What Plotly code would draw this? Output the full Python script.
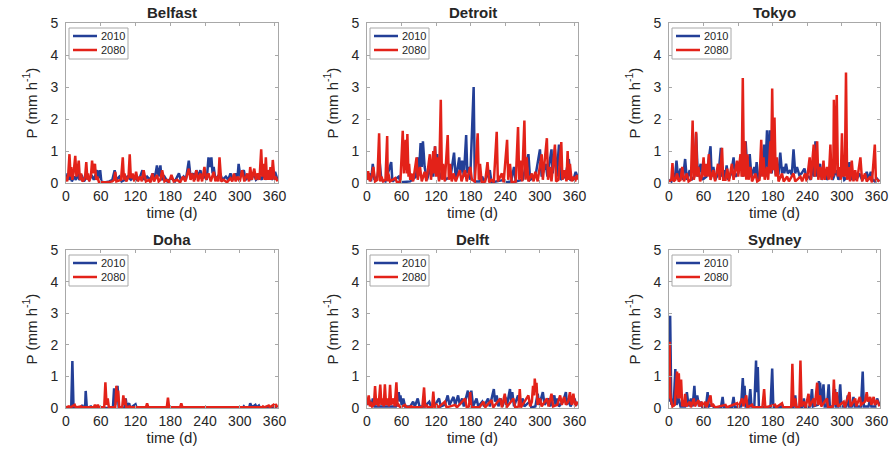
import plotly.graph_objects as go

CITIES = ["Belfast", "Detroit", "Tokyo", "Doha", "Delft", "Sydney"]
YEARS = ["2010", "2080"]
X_TICKS = [0, 60, 120, 180, 240, 300, 360]
Y_TICKS = [0, 1, 2, 3, 4, 5]

# (day, P in mm/h)
BELFAST_2010 = [(0,0.1),(3,0.3),(5,0.1),(8,0.25),(10,0.05),(14,0.2),(17,0.1),(20,0.3),(23,0.1),(28,0.2),(31,0.05),(36,0.2),(40,0.1),(44,0.25),(48,0.1),(52,0.3),(54,0.4),(56,0.15),(59,0.4),(61,0.05),(66,0.02),(75,0.05),(80,0.1),(84,0.4),(87,0.1),(92,0.2),(96,0.05),(102,0.1),(106,0.2),(112,0.1),(117,0.2),(122,0.1),(128,0.2),(132,0.4),(135,0.1),(140,0.2),(145,0.1),(150,0.3),(153,0.1),(157,0.55),(160,0.2),(163,0.55),(165,0.1),(170,0.2),(175,0.05),(182,0.15),(188,0.05),(195,0.3),(198,0.1),(203,0.2),(207,0.1),(212,0.7),(215,0.2),(220,0.3),(222,0.1),(225,0.4),(228,0.2),(232,0.4),(235,0.15),(240,0.2),(243,0.1),(246,0.8),(249,0.5),(251,0.8),(253,0.3),(255,0.5),(258,0.1),(262,0.2),(266,0.3),(270,0.1),(276,0.2),(280,0.1),(284,0.3),(288,0.1),(293,0.3),(296,0.15),(298,0.6),(301,0.2),(304,0.3),(307,0.4),(310,0.1),(316,0.2),(320,0.1),(324,0.3),(328,0.1),(334,0.2),(338,0.1),(341,0.35),(344,0.1),(348,0.3),(352,0.4),(355,0.1),(358,0.2),(361,0.35),(365,0.1)]
BELFAST_2080 = [(0,0.2),(2,0.05),(4,0.3),(6,0.9),(8,0.2),(9,0.5),(11,0.1),(13,0.3),(16,0.85),(18,0.2),(20,0.4),(22,0.7),(24,0.1),(26,0.3),(28,0.05),(31,0.1),(33,0.2),(35,0.65),(37,0.1),(38,0.3),(40,0.05),(43,0.2),(45,0.7),(47,0.3),(50,0.6),(52,0.1),(54,0.2),(57,0.02),(62,0.02),(70,0.02),(80,0.05),(83,0.1),(85,0.35),(87,0.05),(95,0.1),(98,0.8),(100,0.1),(101,0.3),(104,0.05),(108,0.2),(110,0.9),(112,0.15),(115,0.3),(118,0.05),(121,0.35),(124,0.05),(128,0.2),(131,0.05),(134,0.4),(138,0.05),(143,0.1),(146,0.02),(149,0.3),(152,0.05),(157,0.25),(160,0.05),(163,0.1),(166,0.4),(170,0.05),(174,0.1),(178,0.02),(182,0.25),(186,0.05),(192,0.1),(197,0.02),(202,0.2),(206,0.05),(212,0.45),(215,0.1),(218,0.3),(221,0.05),(225,0.4),(228,0.05),(232,0.3),(235,0.05),(239,0.5),(242,0.1),(246,0.3),(250,0.05),(255,0.35),(258,0.05),(261,0.2),(263,0.05),(265,0.8),(268,0.05),(272,0.1),(278,0.02),(284,0.15),(287,0.05),(290,0.3),(293,0.05),(296,0.2),(300,0.05),(304,0.4),(308,0.05),(313,0.3),(316,0.05),(318,0.5),(321,0.1),(325,0.45),(328,0.1),(331,0.3),(334,0.1),(337,1.05),(339,0.2),(341,0.6),(343,0.1),(345,0.8),(347,0.1),(349,0.4),(351,0.1),(353,0.5),(355,0.1),(357,0.72),(360,0.1),(362,0.2),(365,0.05)]

DETROIT_2010 = [(0,0.1),(5,0.3),(7,0.05),(10,0.6),(13,0.1),(18,0.2),(22,0.65),(25,0.1),(32,0.05),(42,0.65),(44,0.05),(55,0.2),(58,0.02),(75,0.05),(85,0.2),(88,0.8),(90,0.3),(93,1.25),(95,0.5),(97,1.3),(100,0.5),(104,0.1),(112,0.6),(115,0.2),(118,1.15),(120,0.4),(122,0.9),(125,0.1),(133,0.5),(136,0.1),(145,0.2),(151,0.95),(154,0.1),(160,0.8),(162,0.3),(165,0.7),(168,0.2),(172,1.5),(174,0.3),(176,0.5),(179,0.1),(185,3.0),(187,0.05),(195,0.05),(200,0.2),(203,0.02),(213,0.4),(216,0.02),(238,0.1),(241,0.02),(250,0.05),(255,0.5),(258,0.05),(270,0.1),(280,0.9),(283,0.1),(292,0.2),(300,1.05),(303,0.2),(310,0.6),(313,0.2),(320,1.05),(322,0.3),(326,1.05),(329,0.2),(333,1.2),(336,0.1),(344,0.2),(350,0.75),(353,0.1),(358,0.1),(362,0.35),(365,0.2)]
DETROIT_2080 = [(0,0.1),(2,0.37),(5,0.05),(8,0.2),(11,0.5),(14,0.05),(18,0.1),(21,1.55),(23,0.05),(25,0.2),(28,0.05),(32,0.1),(35,1.47),(36,0.05),(37,0.3),(40,0.05),(49,0.15),(52,0.02),(58,0.05),(62,1.63),(64,0.3),(65,1.3),(66,0.4),(67,1.35),(69,0.3),(70,1.53),(72,0.2),(73,0.6),(75,0.1),(77,0.3),(80,0.05),(86,0.8),(88,0.1),(92,0.5),(95,0.05),(100,0.35),(103,0.05),(109,0.9),(111,0.1),(115,1.0),(116,0.3),(118,1.15),(120,0.2),(122,0.8),(125,0.05),(128,2.6),(130,0.1),(132,0.6),(135,0.05),(140,1.5),(142,0.1),(144,0.6),(147,0.05),(150,0.3),(154,0.05),(161,0.4),(164,0.05),(170,0.4),(173,0.05),(179,0.5),(182,0.1),(187,0.05),(192,1.55),(194,0.1),(196,0.6),(199,0.02),(205,0.05),(209,0.65),(212,0.02),(216,0.1),(220,0.02),(225,1.6),(227,0.05),(234,0.3),(237,0.02),(243,1.35),(245,0.1),(248,0.6),(251,0.02),(258,0.05),(262,1.75),(264,0.1),(266,0.7),(269,0.05),(273,1.95),(275,0.1),(277,0.8),(280,0.05),(286,0.3),(289,0.05),(292,0.35),(296,0.05),(303,0.9),(305,0.1),(312,1.4),(314,0.1),(317,0.5),(320,0.05),(326,1.2),(328,0.05),(332,0.1),(337,1.28),(339,0.1),(343,0.4),(346,0.05),(348,1.0),(350,0.1),(352,0.6),(355,0.05),(358,0.2),(361,0.05),(364,0.25),(365,0.1)]

TOKYO_2010 = [(0,0.1),(4,0.05),(7,0.3),(10,0.1),(13,0.7),(16,0.1),(20,0.45),(24,0.1),(28,0.75),(31,0.1),(36,0.4),(39,0.1),(44,0.2),(47,1.55),(50,0.2),(55,0.6),(58,0.1),(65,0.2),(72,1.15),(74,0.2),(77,0.5),(80,0.1),(86,0.3),(90,1.1),(92,0.2),(95,0.4),(97,0.1),(100,0.55),(103,0.1),(108,0.3),(112,0.8),(115,0.2),(120,0.3),(125,0.7),(128,0.2),(133,1.3),(136,0.3),(140,0.9),(143,0.2),(148,0.5),(150,0.2),(152,0.65),(155,0.1),(160,0.3),(165,1.2),(167,0.3),(170,1.65),(172,0.5),(175,1.65),(178,0.3),(182,0.8),(185,0.3),(190,0.3),(193,0.95),(196,0.3),(198,0.5),(200,0.3),(203,0.6),(206,0.3),(210,0.4),(213,0.25),(216,1.05),(219,0.3),(222,0.5),(226,0.25),(230,0.3),(235,0.45),(238,0.2),(242,0.2),(246,0.1),(250,0.55),(252,0.2),(254,1.3),(257,0.2),(262,0.6),(265,0.1),(270,0.4),(274,0.1),(280,0.3),(284,0.1),(290,0.4),(294,0.1),(300,0.4),(304,0.1),(310,0.2),(313,0.65),(316,0.1),(322,0.3),(325,0.1),(330,0.3),(335,0.1),(340,0.2),(343,0.35),(346,0.1),(350,0.35),(353,0.1),(357,0.05),(360,0.15),(365,0.05)]
TOKYO_2080 = [(0,0.05),(4,0.1),(6,0.62),(8,0.05),(11,0.1),(14,0.3),(17,0.05),(20,0.1),(23,0.5),(26,0.05),(31,0.3),(34,0.05),(38,0.1),(41,1.95),(43,0.1),(45,0.3),(47,1.6),(49,0.2),(51,0.5),(54,0.05),(57,0.2),(60,0.8),(62,0.2),(65,0.6),(67,0.2),(69,0.9),(72,0.1),(77,0.4),(80,0.05),(85,0.6),(88,0.1),(92,1.1),(94,0.1),(98,0.1),(101,0.45),(104,0.05),(109,0.6),(112,0.1),(118,0.7),(120,0.2),(124,0.9),(126,0.2),(128,3.28),(130,0.2),(132,1.3),(134,0.1),(136,0.9),(138,0.1),(141,0.5),(144,0.05),(150,0.3),(153,0.05),(157,0.1),(160,1.35),(162,0.2),(164,0.8),(166,0.1),(170,0.5),(172,0.1),(176,1.3),(177,0.3),(179,2.95),(181,0.4),(183,2.05),(185,0.2),(187,0.8),(190,0.05),(196,0.3),(199,0.05),(205,0.2),(208,0.05),(216,0.3),(219,0.05),(228,0.2),(231,0.05),(236,0.3),(239,0.05),(244,0.8),(246,0.1),(251,1.2),(253,0.2),(257,1.3),(259,0.1),(262,0.5),(265,0.1),(268,0.7),(270,0.1),(274,0.5),(277,0.1),(280,1.2),(282,0.1),(284,0.5),(285,0.2),(286,2.6),(288,0.3),(291,2.75),(293,0.2),(296,0.5),(298,0.1),(300,1.55),(302,0.2),(303,0.6),(305,0.2),(307,3.45),(309,0.1),(312,0.5),(314,0.05),(317,0.7),(320,0.05),(323,0.4),(326,0.05),(332,0.8),(335,0.05),(340,0.3),(343,0.05),(349,0.2),(352,0.02),(357,1.2),(359,0.05),(361,0.1),(365,0.05)]

DOHA_2010 = [(0,0.0),(9,0.0),(11,1.49),(13,0.0),(26,0.0),(28,0.1),(30,0.0),(33,0.0),(34,0.54),(36,0.0),(43,0.05),(45,0.0),(81,0.0),(83,0.62),(85,0.1),(89,0.7),(91,0.0),(101,0.0),(103,0.3),(105,0.05),(109,0.15),(111,0.0),(120,0.12),(122,0.0),(305,0.0),(307,0.05),(309,0.0),(316,0.0),(318,0.15),(321,0.02),(327,0.1),(329,0.02),(333,0.08),(335,0.0),(365,0.0)]
DOHA_2080 = [(0,0.02),(5,0.05),(8,0.02),(15,0.1),(17,0.02),(26,0.05),(28,0.02),(48,0.02),(50,0.1),(52,0.02),(55,0.1),(57,0.02),(66,0.02),(68,0.81),(70,0.1),(72,0.3),(74,0.02),(85,0.02),(87,0.7),(88,0.2),(90,0.55),(92,0.02),(97,0.02),(99,0.4),(101,0.1),(102,0.3),(104,0.02),(110,0.05),(112,0.02),(138,0.02),(140,0.15),(142,0.02),(174,0.02),(176,0.33),(178,0.02),(197,0.02),(199,0.15),(201,0.02),(298,0.02),(300,0.03),(302,0.02),(338,0.02),(340,0.05),(342,0.02),(350,0.08),(352,0.02),(358,0.1),(360,0.02),(362,0.12),(365,0.02)]

DELFT_2010 = [(0,0.1),(5,0.2),(8,0.05),(10,0.3),(13,0.05),(30,0.05),(50,0.05),(55,0.5),(57,0.2),(58,0.4),(60,0.1),(63,0.3),(66,0.05),(75,0.05),(80,0.2),(83,0.05),(88,0.3),(91,0.05),(100,0.05),(108,0.2),(111,0.05),(118,0.1),(125,0.3),(128,0.05),(135,0.1),(140,0.4),(143,0.1),(150,0.35),(153,0.1),(158,0.4),(161,0.1),(165,0.3),(168,0.05),(175,0.55),(178,0.2),(181,0.55),(184,0.05),(190,0.3),(193,0.05),(200,0.2),(203,0.05),(210,0.3),(213,0.05),(220,0.6),(222,0.2),(225,0.4),(228,0.05),(232,0.3),(235,0.05),(240,0.35),(243,0.1),(248,0.6),(250,0.2),(252,0.5),(255,0.05),(262,0.4),(265,0.05),(270,0.3),(273,0.05),(282,0.2),(285,0.02),(292,0.05),(296,0.45),(299,0.1),(305,0.5),(308,0.1),(315,0.3),(318,0.05),(325,0.4),(327,0.1),(330,0.3),(333,0.05),(340,0.2),(345,0.5),(347,0.1),(350,0.3),(353,0.05),(360,0.3),(363,0.1),(365,0.1)]
DELFT_2080 = [(0,0.1),(3,0.4),(5,0.05),(7,0.2),(9,0.05),(12,0.1),(14,0.69),(16,0.1),(18,0.3),(20,0.05),(23,0.74),(25,0.1),(27,0.3),(29,0.05),(31,0.75),(33,0.1),(36,0.3),(38,0.05),(40,0.73),(42,0.1),(46,0.3),(48,0.05),(51,0.81),(53,0.05),(55,0.1),(58,0.02),(66,0.1),(69,0.02),(77,0.05),(80,0.02),(96,0.02),(99,0.65),(101,0.02),(103,0.1),(106,0.02),(113,0.02),(115,0.52),(117,0.02),(121,0.1),(124,0.02),(135,0.2),(138,0.02),(153,0.1),(156,0.02),(170,0.3),(173,0.02),(177,0.05),(179,0.5),(181,0.02),(195,0.02),(202,0.2),(205,0.02),(216,0.25),(219,0.02),(231,0.3),(234,0.02),(239,0.45),(242,0.02),(254,0.3),(257,0.02),(263,0.05),(265,0.6),(267,0.02),(280,0.4),(283,0.05),(286,0.2),(288,0.7),(290,0.4),(291,0.93),(293,0.5),(294,0.8),(296,0.1),(300,0.3),(303,0.05),(312,0.3),(315,0.05),(320,0.45),(323,0.05),(330,0.1),(335,0.4),(338,0.1),(342,0.35),(345,0.1),(349,0.2),(352,0.5),(355,0.1),(358,0.45),(361,0.05),(364,0.2),(365,0.1)]

SYDNEY_2010 = [(0,0.2),(2,2.92),(4,0.1),(5,0.3),(8,0.05),(11,1.23),(13,0.1),(17,0.3),(20,0.05),(28,0.05),(31,0.5),(34,0.05),(38,0.3),(41,0.05),(44,0.7),(46,0.1),(49,0.4),(52,0.05),(55,0.2),(58,0.02),(64,0.05),(67,0.5),(69,0.05),(75,0.1),(78,0.02),(90,0.02),(93,0.35),(95,0.02),(109,0.02),(112,0.35),(114,0.02),(125,0.05),(128,0.95),(130,0.2),(131,0.7),(133,0.05),(138,0.05),(141,0.6),(143,0.05),(148,0.05),(151,1.5),(152,0.5),(154,1.3),(156,0.02),(176,0.02),(179,1.25),(181,0.02),(194,0.02),(196,0.1),(198,0.02),(216,0.02),(219,0.4),(221,0.02),(231,0.02),(234,0.3),(236,0.02),(245,0.05),(248,0.6),(250,0.05),(258,0.1),(260,0.85),(261,0.4),(262,0.8),(265,0.1),(268,0.75),(270,0.05),(274,0.05),(277,0.75),(279,0.05),(285,0.05),(288,0.6),(290,0.05),(294,0.05),(297,0.75),(299,0.05),(307,0.05),(310,0.4),(312,0.05),(317,0.05),(320,0.35),(322,0.05),(333,0.05),(336,1.15),(338,0.05),(346,0.05),(349,0.3),(351,0.05),(358,0.05),(361,0.3),(365,0.1)]
SYDNEY_2080 = [(0,0.3),(1,2.1),(2,0.5),(3,0.3),(6,0.05),(10,0.1),(14,1.15),(16,0.3),(17,1.1),(19,0.3),(21,0.9),(23,0.05),(24,0.2),(26,0.05),(28,0.45),(30,0.05),(36,0.2),(38,0.02),(43,0.3),(45,0.05),(51,0.25),(53,0.05),(57,0.2),(59,0.02),(63,0.2),(65,0.02),(72,0.4),(74,0.05),(77,0.1),(80,0.02),(98,0.1),(100,0.02),(118,0.15),(120,0.02),(127,0.3),(129,0.05),(134,0.4),(136,0.02),(144,0.1),(146,0.02),(162,0.02),(165,0.6),(167,0.02),(184,0.1),(186,0.02),(196,0.15),(198,0.02),(212,0.02),(214,1.4),(216,0.05),(219,0.3),(221,0.02),(226,0.02),(228,1.5),(230,0.05),(234,0.2),(237,0.02),(242,0.45),(244,0.05),(251,0.3),(253,0.05),(257,0.8),(259,0.1),(262,0.4),(264,0.05),(274,0.3),(276,0.02),(284,0.05),(286,0.9),(288,0.1),(291,0.5),(293,0.05),(303,0.2),(305,0.02),(313,0.5),(315,0.05),(323,0.3),(325,0.05),(331,0.35),(333,0.1),(340,0.2),(343,0.5),(345,0.2),(349,0.35),(351,0.1),(355,0.35),(357,0.1),(361,0.25),(365,0.05)]

SERIES = {
    "Belfast": (BELFAST_2010, BELFAST_2080),
    "Detroit": (DETROIT_2010, DETROIT_2080),
    "Tokyo": (TOKYO_2010, TOKYO_2080),
    "Doha": (DOHA_2010, DOHA_2080),
    "Delft": (DELFT_2010, DELFT_2080),
    "Sydney": (SYDNEY_2010, SYDNEY_2080),
}

COLORS = {"2010": "#233f97", "2080": "#e32219"}
W, H = 896, 450
# panel boxes in pixels (left, right, top, bottom)
COLS = [(66, 278), (367, 578), (669, 880)]
ROWS = [(23, 183), (250, 408)]
FONT = "Liberation Sans, Arial, Helvetica, sans-serif"
GREY = "#a8a8a8"

def px(x):
    return x / W

def py(y):
    return 1 - y / H

fig = go.Figure()
layout = {}
shapes = []
for i, city in enumerate(CITIES):
    r, c = divmod(i, 3)
    l, rr = COLS[c]
    t, b = ROWS[r]
    ax = "" if i == 0 else str(i + 1)
    axis_common = dict(showline=True, linecolor=GREY, linewidth=1, mirror="ticks",
                       ticks="inside", ticklen=3, tickcolor=GREY, showgrid=False,
                       zeroline=False, automargin=False,
                       tickfont=dict(family=FONT, size=14, color="#262626"))
    layout["xaxis" + ax] = dict(domain=[px(l), px(rr)], range=[0, 366], tickvals=X_TICKS,
                                anchor="y" + ax, ticklabelstandoff=0,
                                title=dict(text="time (d)", font=dict(family=FONT, size=15, color="#262626"), standoff=0),
                                **axis_common)
    layout["yaxis" + ax] = dict(domain=[py(b), py(t)], range=[0, 5], tickvals=Y_TICKS,
                                anchor="x" + ax, ticklabelstandoff=4,
                                title=dict(text="P (mm h<sup>-1</sup>)", font=dict(family=FONT, size=15, color="#262626"), standoff=9),
                                **axis_common)
    for yr, data in zip(YEARS, SERIES[city]):
        days = [d for d, _ in data]
        vals = [v for _, v in data]
        fig.add_trace(go.Scatter(x=days, y=vals, mode="lines", name=yr,
                                 line=dict(color=COLORS[yr], width=2.5),
                                 xaxis="x" + ax, yaxis="y" + ax, showlegend=False))
    # compact legend box (MATLAB style)
    shapes.append(dict(type="rect", xref="paper", yref="paper", layer="above",
                       x0=px(l + 3), x1=px(l + 62), y0=py(t + 36), y1=py(t + 5),
                       line=dict(color=GREY, width=1), fillcolor="white"))
    for k, yr in enumerate(YEARS):
        yy = t + 13 + 14 * k
        shapes.append(dict(type="line", xref="paper", yref="paper", layer="above",
                           x0=px(l + 7), x1=px(l + 31), y0=py(yy), y1=py(yy),
                           line=dict(color=COLORS[yr], width=2.5)))
        fig.add_annotation(text=yr, x=px(l + 33), y=py(yy), xref="paper", yref="paper",
                           xanchor="left", yanchor="middle", showarrow=False,
                           font=dict(family=FONT, size=11, color="#262626"))
    fig.add_annotation(text="<b>%s</b>" % city, x=px((l + rr) / 2), y=py(t),
                       xref="paper", yref="paper", xanchor="center", yanchor="bottom",
                       showarrow=False, font=dict(family=FONT, size=15, color="#262626"))

fig.update_layout(width=W, height=H, margin=dict(l=0, r=0, t=0, b=0),
                  paper_bgcolor="white", plot_bgcolor="white", shapes=shapes,
                  showlegend=False, **layout)
fig.write_html("out.html", config={"displayModeBar": False},
               post_script="document.body.style.margin='0';document.body.style.overflow='hidden';")
